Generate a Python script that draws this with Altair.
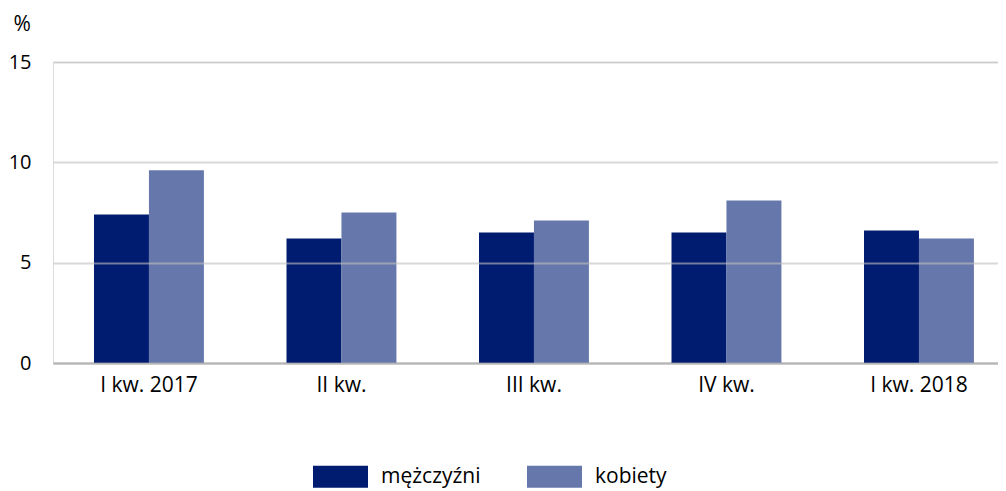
import altair as alt
import pandas as pd

categories = ["I kw. 2017", "II kw.", "III kw.", "IV kw.", "I kw. 2018"]
series = ["mężczyźni", "kobiety"]
men = [7.4, 6.2, 6.5, 6.5, 6.6]
women = [9.6, 7.5, 7.1, 8.1, 6.2]
y_ticks = [0, 5, 10, 15]
colors = ["#001c71", "#6677ab"]

rows = []
for i, c in enumerate(categories):
    rows.append({"kw": c, "plec": series[0], "v": men[i], "o": 0})
    rows.append({"kw": c, "plec": series[1], "v": women[i], "o": 1})
df = pd.DataFrame(rows)

FONT = "Open Sans"
FS = 21

bars = alt.Chart(df).mark_bar().encode(
    x=alt.X("kw:N", sort=categories,
            scale=alt.Scale(paddingInner=0.429, paddingOuter=0.169, align=0.63),
            axis=alt.Axis(title=None, labelAngle=0, labelFontSize=FS, labelFont=FONT,
                          labelColor="#000000", ticks=False, labelPadding=11,
                          domainColor="#a6a6a6", domainWidth=2, grid=False)),
    xOffset=alt.XOffset("plec:N", sort=series, scale=alt.Scale(paddingInner=0, paddingOuter=0)),
    y=alt.Y("v:Q", scale=alt.Scale(domain=[0, 15], nice=False),
            axis=alt.Axis(values=y_ticks, title="%", titleAngle=0, titleAlign="left",
                          titleBaseline="middle", titleX=-40, titleY=-38,
                          titleFont=FONT, titleFontSize=FS, titleFontWeight="normal",
                          titleColor="#000000",
                          labelFont=FONT, labelFontSize=20, labelColor="#000000",
                          labelPadding=22, ticks=False, domain=False,
                          gridColor="#bfbfbf", gridOpacity=0.6, gridWidth=2, zindex=1)),
    color=alt.Color("plec:N", sort=series,
                    scale=alt.Scale(domain=series, range=colors),
                    legend=alt.Legend(title=None, orient="none", direction="horizontal",
                                      legendX=260, legendY=387,
                                      symbolType="M-1,-0.4h2v0.8h-2z", symbolSize=3025,
                                      symbolStrokeWidth=0, symbolOpacity=1,
                                      labelFont=FONT, labelFontSize=FS, labelColor="#000000",
                                      labelOffset=13, columnPadding=46, labelLimit=300)),
).properties(width=945, height=301, autosize=alt.AutoSizeParams(type="none"))

chart = bars.configure_view(stroke=None).configure(
    padding={"left": 45, "top": 54, "right": 0, "bottom": 126})

chart.save("out.html", embed_options={"renderer": "svg", "actions": False})
